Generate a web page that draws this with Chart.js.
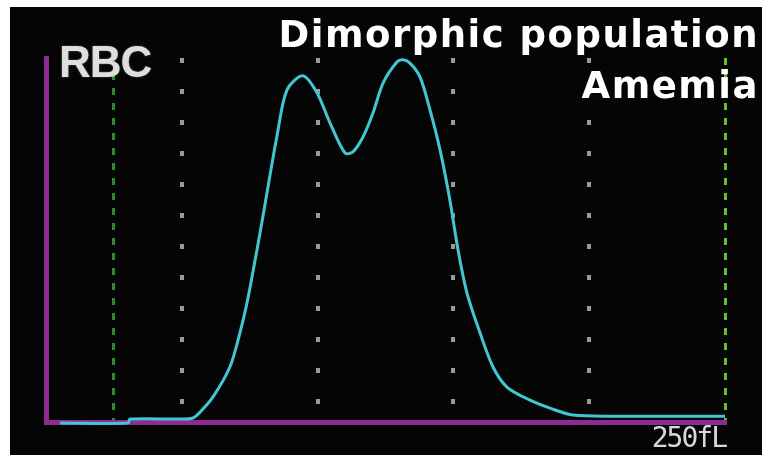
<!DOCTYPE html>
<html>
<head>
<meta charset="utf-8">
<script src="https://cdn.jsdelivr.net/npm/chart.js@4/dist/chart.umd.min.js"></script>
<style>
  body { margin: 0; background: #fff; }
  #mycanvas { position: absolute; left: 10px; top: 7px; background: #050505; }
</style>
</head>
<body>
<canvas id="mycanvas" width="752" height="448"></canvas>
<script>
// RBC histogram, cell size in fL vs relative count
var sizes = [5.2, 30.2, 30.9, 49.3, 54.1, 56.7, 61.5, 67.7, 71.4, 74.0, 77.0, 78.8, 80.6, 82.5, 85.1, 88.7,
  94.6, 99.8, 104.6, 110.1, 113.0, 116.7, 120.4, 124.1, 129.2, 131.4, 134.0, 137.7, 141.4, 145.1, 148.7,
  151.7, 155.0, 159.8, 164.6, 169.7, 178.2, 185.6, 194.0, 211.3, 250];
var counts = [-0.3, -0.3, 0.8, 0.8, 1.1, 2.7, 6.9, 15.1, 24.5, 32.7, 44.5, 51.9, 59.6, 67.9, 78.8, 91.2,
  95.1, 90.4, 82.1, 73.9, 74.2, 78.3, 84.9, 93.1, 98.9, 99.5, 98.6, 94.8, 85.7, 74.7, 61.0,
  47.3, 35.4, 24.5, 15.1, 9.6, 6.0, 3.8, 1.9, 1.6, 1.6];

var gridTicks = [25, 50, 100, 150, 200, 250];   // 25 and 250 are the discriminator lines
var markerTicks = [25, 250];
var axisLabel = '250fL';
var axisLabelAt = 250;
var panelName = 'RBC';
var titleLines = ['Dimorphic population', 'Amemia'];

var points = [];
for (var i = 0; i < sizes.length; i++) {
  points.push({x: sizes[i], y: counts[i]});
}

const textPlugin = {
  id: 'panelText',
  beforeDatasetsDraw(chart) {
    const ctx = chart.ctx;
    ctx.save();
    ctx.textBaseline = 'alphabetic';
    ctx.fillStyle = '#dedede';
    ctx.shadowColor = 'rgba(255,255,255,0.35)';
    ctx.shadowBlur = 2;
    ctx.font = 'bold 44px "Liberation Sans"';
    ctx.letterSpacing = '-1px';
    ctx.textAlign = 'left';
    ctx.fillText(panelName, 49, 70);
    ctx.shadowBlur = 0;

    ctx.fillStyle = '#ffffff';
    ctx.font = 'bold 37px "DejaVu Sans"';
    ctx.letterSpacing = '1.5px';
    ctx.textAlign = 'right';
    for (var i = 0; i < titleLines.length; i++) {
      ctx.fillText(titleLines[i], 749, 40 + i * 51);
    }

    // axis end label under the last marker line
    ctx.fillStyle = '#d8d8d8';
    ctx.font = '28px "DejaVu Sans Mono"';
    ctx.letterSpacing = '-2px';
    ctx.textBaseline = 'top';
    ctx.fillText(axisLabel, chart.scales.x.getPixelForValue(axisLabelAt) + 1, chart.chartArea.bottom + 4);
    ctx.restore();
  }
};

const config = {
  type: 'line',
  data: {
    datasets: [{
      data: points,
      borderColor: '#42c6d4',
      borderWidth: 3,
      pointRadius: 0,
      tension: 0.3,
      clip: false,
      fill: false
    }]
  },
  options: {
    responsive: false,
    animation: false,
    layout: { padding: { left: 36, right: 37, top: 51, bottom: 33 } },
    plugins: { legend: { display: false }, tooltip: { enabled: false } },
    scales: {
      x: {
        type: 'linear',
        min: 0,
        max: 250,
        afterBuildTicks: function (scale) {
          scale.ticks = gridTicks.map(function (v) { return {value: v}; });
        },
        afterFit: function (scale) { scale.height = 0; },
        grid: {
          drawTicks: false,
          color: function (c) {
            if (c.tick && c.tick.value === 25) return '#2f8a2f';
            if (c.tick && c.tick.value === 250) return '#62c12a';
            return '#9a9a9a';
          },
          lineWidth: function (c) {
            return (c.tick && markerTicks.indexOf(c.tick.value) >= 0) ? 3 : 4;
          }
        },
        border: {
          color: '#8c2b91',
          width: 5,
          dash: function (c) {
            return (c.tick && markerTicks.indexOf(c.tick.value) >= 0) ? [7, 8] : [5, 26];
          }
        },
        ticks: { display: false }
      },
      y: {
        min: 0,
        max: 100,
        afterFit: function (scale) { scale.width = 0; },
        grid: { display: false, drawTicks: false },
        ticks: { display: false },
        border: { color: '#8c2b91', width: 5 }
      }
    }
  },
  plugins: [textPlugin]
};

const myChart = new Chart(document.getElementById('mycanvas'), config);
</script>
</body>
</html>
